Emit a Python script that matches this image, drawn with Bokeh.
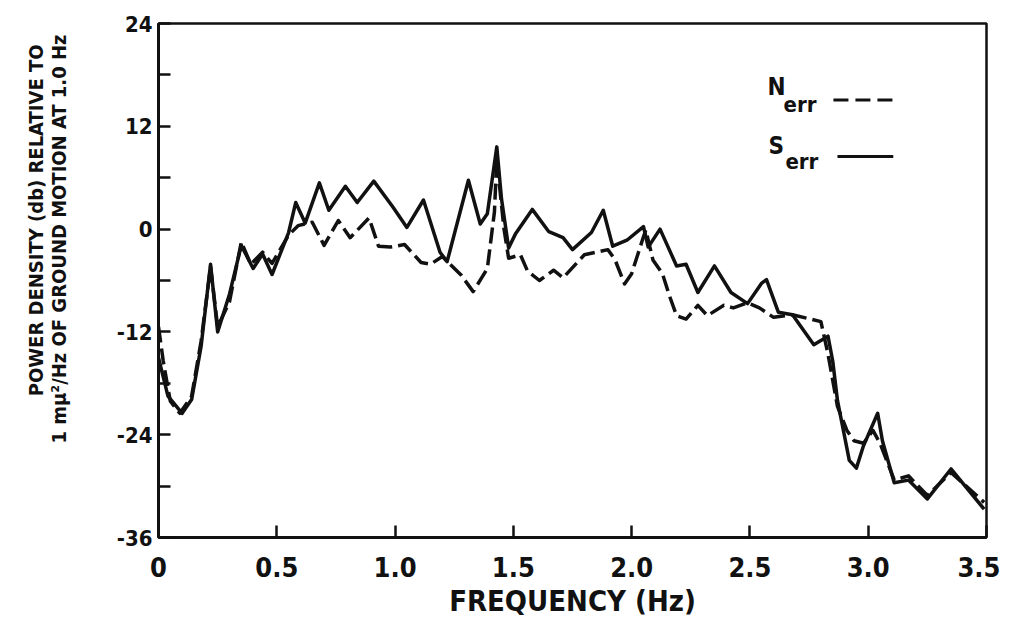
from bokeh.plotting import figure
from bokeh.models import FixedTicker, PrintfTickFormatter, Label, Range1d, Title
from bokeh.embed import file_html
from bokeh.resources import INLINE

# ---- data (frequency in Hz, power density in dB) ----
s_freq = [0.00, 0.04, 0.10, 0.14, 0.18, 0.22, 0.25, 0.30, 0.35, 0.40, 0.44, 0.48,
          0.55, 0.58, 0.62, 0.68, 0.72, 0.79, 0.84, 0.91, 0.99, 1.05, 1.12, 1.19,
          1.22, 1.31, 1.36, 1.39, 1.43, 1.45, 1.48, 1.51, 1.58, 1.65, 1.71, 1.75,
          1.83, 1.88, 1.92, 1.98, 2.05, 2.07, 2.12, 2.19, 2.23, 2.28, 2.35, 2.42,
          2.49, 2.55, 2.57, 2.62, 2.68, 2.77, 2.83, 2.85, 2.87, 2.92, 2.95, 2.98,
          3.04, 3.06, 3.11, 3.17, 3.25, 3.35, 3.49]
s_err = [-15.0, -19.5, -21.5, -19.9, -13.7, -4.1, -12.0, -7.6, -1.9, -4.6, -2.9, -5.3,
         -0.4, 3.1, 0.7, 5.4, 2.2, 5.0, 3.1, 5.6, 2.6, 0.2, 3.4, -2.7,
         -3.8, 5.7, 0.6, 1.8, 9.6, 3.5, -2.2, -0.5, 2.3, -0.3, -1.0, -2.4,
         -0.4, 2.2, -2.0, -1.3, 0.3, -2.1, 0.0, -4.3, -4.1, -7.4, -4.3, -7.4,
         -8.7, -6.3, -5.9, -9.7, -10.0, -13.5, -12.5, -15.4, -20.0, -27.0, -27.9, -25.3,
         -21.5, -24.7, -29.6, -29.3, -31.5, -28.0, -32.7]

n_freq = [0.00, 0.02, 0.05, 0.09, 0.14, 0.18, 0.22, 0.25, 0.30, 0.35, 0.39, 0.44,
          0.48, 0.55, 0.59, 0.65, 0.70, 0.76, 0.81, 0.89, 0.93, 0.98, 1.04, 1.11,
          1.15, 1.20, 1.28, 1.33, 1.39, 1.42, 1.43, 1.46, 1.48, 1.53, 1.56, 1.61,
          1.67, 1.71, 1.80, 1.90, 1.93, 1.97, 2.00, 2.05, 2.06, 2.09, 2.13, 2.16,
          2.19, 2.23, 2.28, 2.32, 2.39, 2.43, 2.49, 2.54, 2.60, 2.68, 2.80, 2.83,
          2.87, 2.91, 2.94, 2.98, 3.02, 3.05, 3.11, 3.17, 3.25, 3.35, 3.49]
n_err = [-11.4, -15.4, -20.1, -21.5, -19.5, -13.1, -4.4, -11.4, -8.5, -1.5, -4.1, -2.7,
         -4.0, -0.7, 0.4, 0.8, -1.9, 1.0, -1.0, 1.3, -2.0, -2.1, -1.8, -3.9,
         -4.1, -3.2, -5.4, -7.3, -4.6, 2.0, 8.2, 0.1, -3.4, -3.0, -4.9, -6.0,
         -4.8, -5.7, -3.0, -2.4, -3.6, -6.4, -5.2, -0.9, -0.1, -3.6, -5.2, -7.8,
         -10.1, -10.5, -8.9, -10.1, -8.9, -9.2, -8.6, -9.2, -10.3, -10.0, -10.8, -14.6,
         -20.7, -23.5, -24.7, -25.0, -23.5, -25.0, -29.3, -28.8, -31.1, -28.4, -31.9]

x_ticks = [0, 0.5, 1.0, 1.5, 2.0, 2.5, 3.0, 3.5]
y_ticks = [-36, -24, -12, 0, 12, 24]
y_minor = [-30, -18, -6, 6, 18]
y_tick_labels = {-36: "-36", -24: "-24", -12: "-12", 0: "0", 12: "12", 24: "24"}

FONT = "DejaVu Sans Condensed"
INK = "#111111"

p = figure(width=1000, height=620, output_backend="svg", toolbar_location=None,
           x_range=Range1d(0, 3.5), y_range=Range1d(-36, 24),
           min_border_left=158, min_border_right=14, min_border_top=23,
           min_border_bottom=79)
p.background_fill_color = "white"
p.border_fill_color = "white"
p.outline_line_color = INK
p.outline_line_width = 2.5
p.xgrid.visible = False
p.ygrid.visible = False

# x axis
p.xaxis.ticker = FixedTicker(ticks=x_ticks)
p.xaxis.formatter = PrintfTickFormatter(format="%.1f")
p.xaxis.major_label_overrides = {0: "0"}
p.xaxis.axis_label = "FREQUENCY (Hz)"
p.xaxis.axis_label_text_font = FONT
p.xaxis.axis_label_text_font_style = "bold"
p.xaxis.axis_label_text_font_size = "29px"
p.xaxis.axis_label_text_color = INK
p.xaxis.axis_label_standoff = 4
p.xaxis.major_label_text_font = FONT
p.xaxis.major_label_text_font_style = "bold"
p.xaxis.major_label_text_font_size = "27px"
p.xaxis.major_label_text_color = INK
p.xaxis.major_label_standoff = 19

# y axis (a blank axis label only reserves room for the two title lines)
p.yaxis.ticker = FixedTicker(ticks=y_ticks, minor_ticks=y_minor)
p.yaxis.major_label_overrides = y_tick_labels
p.yaxis.major_label_text_font = FONT
p.yaxis.major_label_text_font_style = "bold"
p.yaxis.major_label_text_font_size = "22px"
p.yaxis.major_label_text_color = INK
p.yaxis.major_label_standoff = 6
p.yaxis.axis_label = " "
p.yaxis.axis_label_text_font_size = "2px"
p.yaxis.axis_label_standoff = 41

for ax in (p.xaxis, p.yaxis):
    ax.axis_line_color = INK
    ax.axis_line_width = 3
    ax.major_tick_line_color = INK
    ax.major_tick_line_width = 2.5
    ax.major_tick_in = 12
    ax.major_tick_out = 0
    ax.minor_tick_line_color = INK
    ax.minor_tick_line_width = 2.5
    ax.minor_tick_in = 12
    ax.minor_tick_out = 0
p.xaxis.minor_tick_line_color = None

# y-axis label as two rotated titles on the left
ylab2 = Title(text="1 m\u03bc\u00b2/Hz OF GROUND MOTION AT 1.0 Hz", align="right",
              offset=11, standoff=-6, text_font=FONT, text_font_style="bold",
              text_font_size="20px", text_color=INK)
ylab1 = Title(text="POWER DENSITY (db) RELATIVE TO", align="right",
              offset=21, standoff=0, text_font=FONT, text_font_style="bold",
              text_font_size="20px", text_color=INK)
p.add_layout(ylab2, "left")
p.add_layout(ylab1, "left")

# data lines
p.line(n_freq, n_err, line_color=INK, line_width=3.5, line_dash="16 6",
       line_join="round")
p.line(s_freq, s_err, line_color=INK, line_width=3.5, line_join="round")

# legend (hand drawn, with subscripts)
leg_n = dict(x=2.574, y=16.6, sub_x=2.642, sub_y=14.5, lx=[2.853, 3.106], ly=15.08)
leg_s = dict(x=2.578, y=9.75, sub_x=2.650, sub_y=7.9, lx=[2.870, 3.106], ly=8.48)
for letter, d, dash in (("N", leg_n, "15 7"), ("S", leg_s, "solid")):
    p.add_layout(Label(x=d["x"], y=d["y"], text=letter, text_font=FONT,
                       text_font_style="bold", text_font_size="24px",
                       text_baseline="alphabetic", text_color=INK))
    p.add_layout(Label(x=d["sub_x"], y=d["sub_y"], text="err", text_font=FONT,
                       text_font_style="bold", text_font_size="22px",
                       text_baseline="alphabetic", text_color=INK))
    p.line(d["lx"], [d["ly"], d["ly"]], line_color=INK, line_width=3,
           line_dash=dash)

open("out.html", "w").write(file_html(p, INLINE))
